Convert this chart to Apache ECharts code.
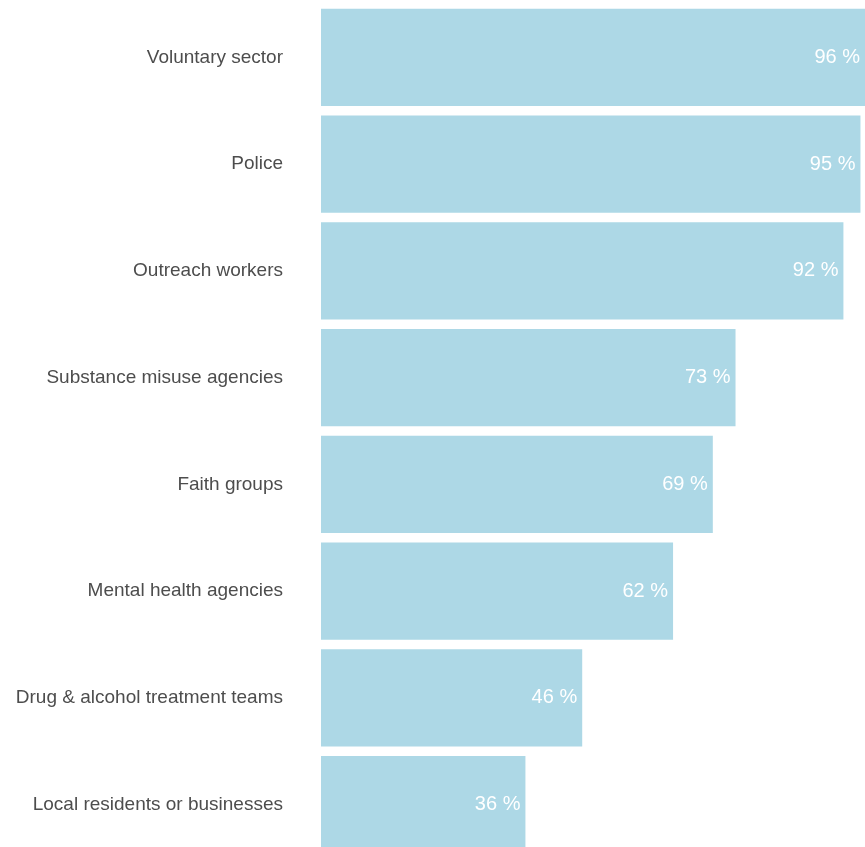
<!DOCTYPE html>
<html><head><meta charset="utf-8">
<script src="https://cdn.jsdelivr.net/npm/echarts@6/dist/echarts.min.js"></script>
<style>html,body{margin:0;padding:0;background:#fff}#c{width:865px;height:847px}</style>
</head><body><div id="c"></div>
<script>
const categories = ["Voluntary sector","Police","Outreach workers","Substance misuse agencies","Faith groups","Mental health agencies","Drug & alcohol treatment teams","Local residents or businesses"];
const values = [96,95,92,73,69,62,46,36];
const chart = echarts.init(document.getElementById('c'));
chart.setOption({
  animation:false,
  grid:{left:321,width:544,top:4,height:854,containLabel:false,outerBoundsMode:'none'},
  xAxis:{type:'value',min:0,max:95.8,show:false},
  yAxis:{type:'category',data:categories,inverse:true,axisLine:{show:false},axisTick:{show:false},
    axisLabel:{margin:38,fontSize:19,color:'#4d4d4d',fontFamily:'Liberation Sans, Arial, sans-serif'}},
  series:[{type:'bar',data:values,barCategoryGap:'9.1%',itemStyle:{color:'#add8e6'},
    label:{show:true,position:'insideRight',distance:5,color:'#fff',fontSize:20,fontFamily:'Liberation Sans, Arial, sans-serif',formatter:p=>p.value+' %'}}]
});
</script></body></html>
